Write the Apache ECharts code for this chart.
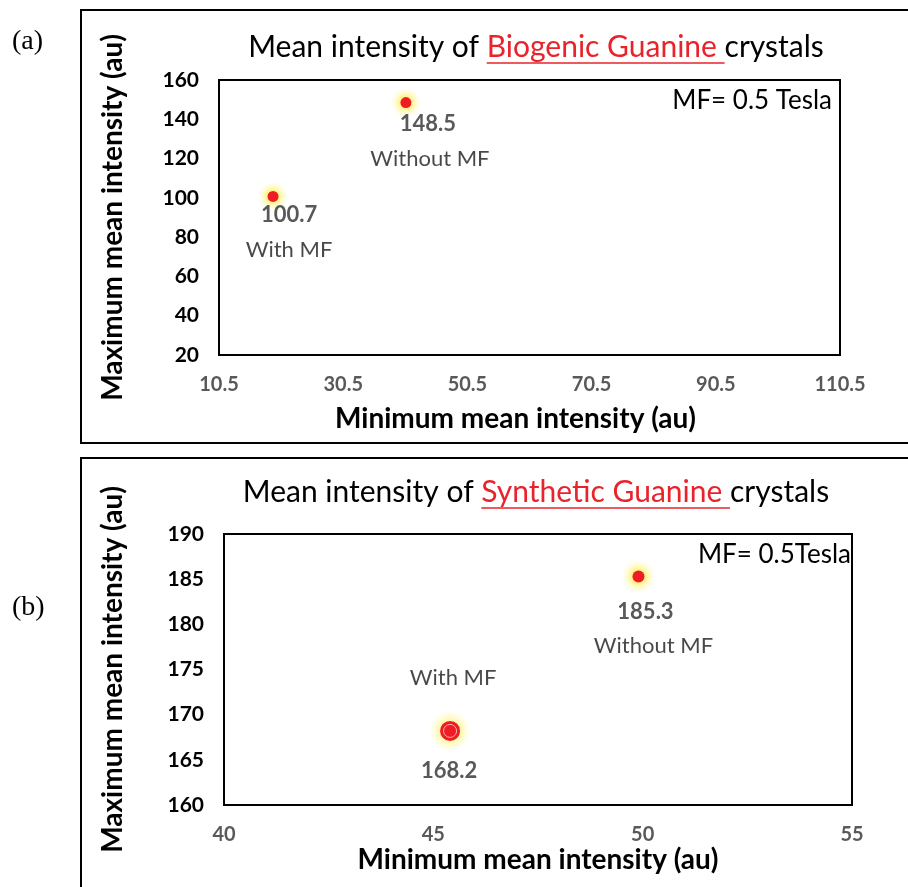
<!DOCTYPE html>
<html>
<head>
<meta charset="utf-8">
<script src="https://cdn.jsdelivr.net/npm/echarts@6/dist/echarts.min.js"></script>
<style>html,body{margin:0;padding:0;background:#fff}#c{width:908px;height:887px}</style>
</head>
<body>
<div id="c"></div>
<script>
// ---- data ----
const pointNames = ['With MF', 'Without MF'];
const bioMinMean = [19.2, 40.6];
const bioMaxMean = [100.7, 148.5];
const synMinMean = [45.4, 49.9];
const synMaxMean = [168.2, 185.3];
const bioXTicks = [10.5, 110.5, 20];   // min, max, step
const bioYTicks = [20, 160, 20];
const synXTicks = [40, 55, 5];
const synYTicks = [160, 190, 5];

// ---- styles ----
const FONT = 'Lato';
const ctx = document.createElement('canvas').getContext('2d');
function tw(t, f) { ctx.font = f; return ctx.measureText(t).width; }

const chart = echarts.init(document.getElementById('c'));

function glowColor() {
  return new echarts.graphic.RadialGradient(0.5, 0.5, 0.5, [
    { offset: 0, color: 'rgba(255,230,0,0.95)' },
    { offset: 0.4, color: 'rgba(255,238,70,0.6)' },
    { offset: 1, color: 'rgba(255,255,210,0)' }
  ]);
}

function pts(xs, ys) { return xs.map((x, i) => [x, ys[i]]); }

function titleGraphic(cx, cy, parts) {
  const f = '30px ' + FONT;
  const widths = parts.map(p => tw(p, f));
  const total = widths.reduce((a, b) => a + b, 0);
  let x = cx - total / 2;
  const els = [];
  parts.forEach((p, i) => {
    const red = i === 1;
    els.push({ type: 'text', x: x, y: cy, style: { text: p, font: f, fill: red ? '#e8232b' : '#000', textVerticalAlign: 'middle' } });
    if (red) {
      els.push({ type: 'line', shape: { x1: x, y1: cy + 16, x2: x + widths[i], y2: cy + 16 }, style: { stroke: '#e8232b', lineWidth: 1.5 } });
    }
    x += widths[i];
  });
  return els;
}

const valOff = {
  a: [[16, 18], [22, 21]],
  b: [[-1, 40], [7, 35]]
};
const nameOff = {
  a: [[16, 53], [24, 56]],
  b: [[3, -53], [15, 69]]
};

function valueSeries(xi, yi, xs, ys, key, sizes) {
  return {
    type: 'scatter', xAxisIndex: xi, yAxisIndex: yi, z: 3,
    data: pts(xs, ys).map((p, i) => ({ value: p, symbolSize: sizes[i],
      label: { offset: valOff[key][i] } })),
    itemStyle: { color: '#ee1c25', opacity: 1 },
    label: { show: true, position: 'inside', align: 'center', verticalAlign: 'middle',
      formatter: p => p.value[1].toFixed(1),
      fontFamily: FONT, fontWeight: 'bold', fontSize: 22, color: '#595959' },
    emphasis: { disabled: true }
  };
}
function glowSeries(xi, yi, xs, ys, sizes) {
  return {
    type: 'scatter', xAxisIndex: xi, yAxisIndex: yi, z: 2, silent: true,
    data: pts(xs, ys).map((p, i) => ({ value: p, symbolSize: sizes[i] })),
    itemStyle: { color: glowColor(), opacity: 1 },
    emphasis: { disabled: true }
  };
}
function nameSeries(xi, yi, xs, ys, key) {
  return {
    type: 'scatter', xAxisIndex: xi, yAxisIndex: yi, z: 4, silent: true,
    data: pts(xs, ys).map((p, i) => ({ value: p, name: pointNames[i],
      label: { offset: nameOff[key][i] } })),
    symbolSize: 1,
    itemStyle: { color: 'rgba(0,0,0,0)' },
    label: { show: true, position: 'inside', align: 'center', verticalAlign: 'middle',
      formatter: p => p.name, fontFamily: FONT, fontSize: 22, color: '#1a1a1a' },
    emphasis: { disabled: true }
  };
}

function xAxis(gi, t) {
  return {
    type: 'value', gridIndex: gi, min: t[0], max: t[1], interval: t[2],
    axisLine: { show: false }, axisTick: { show: false }, splitLine: { show: false },
    axisLabel: { margin: 20, fontFamily: FONT, fontWeight: 'bold', fontSize: 20, color: '#595959',
      formatter: v => (t[0] % 1 !== 0) ? v.toFixed(1) : String(v) },
    name: 'Minimum mean intensity (au)', nameLocation: 'middle', nameGap: gi === 0 ? 50 : 40,
    nameTextStyle: { fontFamily: FONT, fontWeight: 'bold', fontSize: 28, color: '#000',
      padding: gi === 0 ? [0, 28, 0, 0] : [0, 0, 0, 0] }
  };
}
function yAxis(gi, t) {
  return {
    type: 'value', gridIndex: gi, min: t[0], max: t[1], interval: t[2],
    axisLine: { show: false }, axisTick: { show: false }, splitLine: { show: false },
    axisLabel: { margin: 20, fontFamily: FONT, fontWeight: 'bold', fontSize: 21, color: '#000' },
    name: 'Maximum mean intensity (au)', nameLocation: 'middle', nameGap: gi === 0 ? 92 : 97, nameRotate: 90,
    nameTextStyle: { fontFamily: FONT, fontWeight: 'bold', fontSize: 28, color: '#000' }
  };
}

const graphics = [
  { type: 'rect', shape: { x: 81, y: 10, width: 900, height: 433 }, style: { fill: 'none', stroke: '#000', lineWidth: 2 }, z: -1 },
  { type: 'rect', shape: { x: 81, y: 458, width: 900, height: 500 }, style: { fill: 'none', stroke: '#000', lineWidth: 2 }, z: -1 },
  { type: 'text', x: 12, y: 42, style: { text: '(a)', font: '28px "Liberation Serif"', fill: '#000', textVerticalAlign: 'middle' } },
  { type: 'text', x: 12, y: 608, style: { text: '(b)', font: '28px "Liberation Serif"', fill: '#000', textVerticalAlign: 'middle' } },
  { type: 'text', x: 832, y: 101, style: { text: 'MF= 0.5 Tesla', font: '26px ' + FONT, fill: '#000', textAlign: 'right', textVerticalAlign: 'middle' } },
  { type: 'text', x: 851, y: 555, style: { text: 'MF= 0.5Tesla', font: '26px ' + FONT, fill: '#000', textAlign: 'right', textVerticalAlign: 'middle' } }
].concat(titleGraphic(536, 47, ['Mean intensity of ', 'Biogenic Guanine ', 'crystals']))
 .concat(titleGraphic(536, 492, ['Mean intensity of ', 'Synthetic Guanine ', 'crystals']));

chart.setOption({
  animation: false,
  backgroundColor: '#fff',
  grid: [
    { left: 219, top: 80, width: 621, height: 275, show: true, borderColor: '#000', borderWidth: 2, backgroundColor: 'transparent' },
    { left: 224, top: 534, width: 628, height: 271, show: true, borderColor: '#000', borderWidth: 2, backgroundColor: 'transparent' }
  ],
  xAxis: [xAxis(0, bioXTicks), xAxis(1, synXTicks)],
  yAxis: [yAxis(0, bioYTicks), yAxis(1, synYTicks)],
  series: [
    glowSeries(0, 0, bioMinMean, bioMaxMean, [32, 32]),
    valueSeries(0, 0, bioMinMean, bioMaxMean, 'a', [11, 11]),
    nameSeries(0, 0, bioMinMean, bioMaxMean, 'a'),
    glowSeries(1, 1, synMinMean, synMaxMean, [44, 36]),
    valueSeries(1, 1, synMinMean, synMaxMean, 'b', [20, 12]),
    {
      type: 'scatter', xAxisIndex: 1, yAxisIndex: 1, z: 5, silent: true,
      data: [[synMinMean[0], synMaxMean[0]]], symbolSize: 13,
      itemStyle: { color: 'rgba(0,0,0,0)', borderColor: '#ffd0d0', borderWidth: 1 },
      emphasis: { disabled: true }
    },
    nameSeries(1, 1, synMinMean, synMaxMean, 'b')
  ],
  graphic: graphics
});
</script>
</body>
</html>
